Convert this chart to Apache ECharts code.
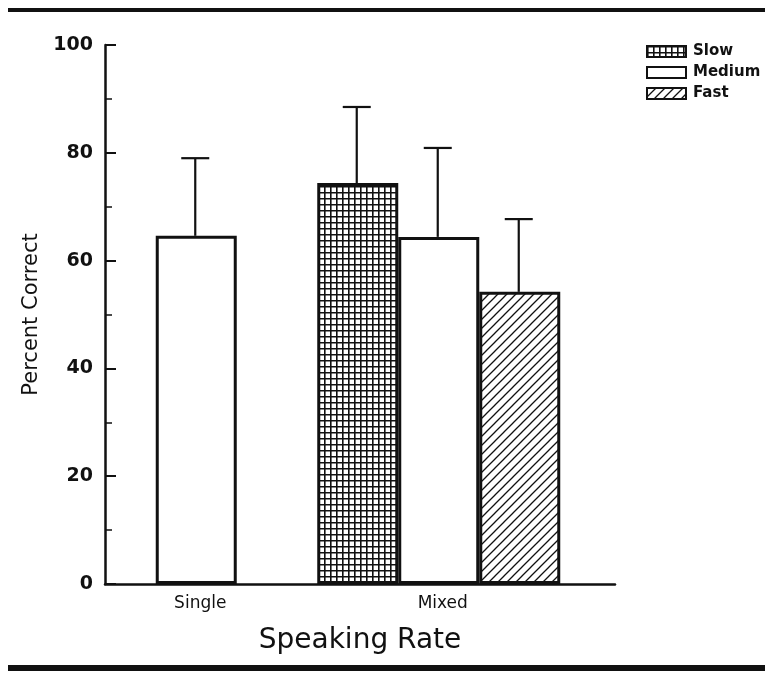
<!DOCTYPE html>
<html>
<head>
<meta charset="utf-8">
<script src="https://cdn.jsdelivr.net/npm/echarts@6/dist/echarts.min.js"></script>
<style>
  html, body { margin: 0; padding: 0; background: #fff; }
  #chart { width: 765px; height: 673px; }
</style>
</head>
<body>
<div id="chart"></div>
<script>
const categories = ["Single", "Mixed"];
const rates = ["Slow", "Medium", "Fast"];
// mean percent correct per rate, '-' where the condition does not exist
const slowMeans = ["-", 74.4];
const mediumMeans = [64.6, 64.4];
const fastMeans = ["-", 54.2];
// upper end of the error bars
const slowUpper = ["-", 88.5];
const mediumUpper = [79.0, 80.9];
const fastUpper = ["-", 67.7];
const yTicks = [0, 20, 40, 60, 80, 100];

const font = "DejaVu Sans";
const barW = 81;

// fill patterns
function makePattern(kind) {
  const c = document.createElement("canvas");
  const s = kind === "grid" ? 6 : 9;
  c.width = s;
  c.height = s;
  const g = c.getContext("2d");
  g.fillStyle = "#fff";
  g.fillRect(0, 0, s, s);
  g.strokeStyle = "#111";
  g.lineWidth = kind === "grid" ? 1.6 : 1.3;
  g.beginPath();
  if (kind === "grid") {
    g.moveTo(0.8, 0); g.lineTo(0.8, s);
    g.moveTo(0, 0.8); g.lineTo(s, 0.8);
  } else {
    g.moveTo(0, s); g.lineTo(s, 0);
    g.moveTo(-1, 1); g.lineTo(1, -1);
    g.moveTo(s - 1, s + 1); g.lineTo(s + 1, s - 1);
  }
  g.stroke();
  return { image: c, repeat: "repeat" };
}

const fills = {
  Slow: makePattern("grid"),
  Medium: "#fff",
  Fast: makePattern("hatch"),
};

const meansByRate = { Slow: slowMeans, Medium: mediumMeans, Fast: fastMeans };
const upperByRate = { Slow: slowUpper, Medium: mediumUpper, Fast: fastUpper };

const errData = [];
rates.forEach((r, ri) => {
  categories.forEach((c, ci) => {
    if (meansByRate[r][ci] !== "-") {
      errData.push([ci, meansByRate[r][ci], upperByRate[r][ci], ri]);
    }
  });
});

const barSeries = rates.map((r) => ({
  name: r,
  type: "bar",
  xAxisIndex: 0,
  yAxisIndex: 0,
  data: meansByRate[r],
  barWidth: barW,
  barGap: "0%",
  itemStyle: { color: fills[r], borderColor: "#111", borderWidth: 3 },
  emphasis: { disabled: true },
  z: 3,
}));

const chart = echarts.init(document.getElementById("chart"));

chart.setOption({
  animation: false,
  grid: [
    { left: 75, right: 205, top: 45, bottom: 89 },
    { left: 105, right: 150, top: 45, bottom: 89 },
  ],
  legend: {
    data: rates,
    orient: "vertical",
    left: 641,
    top: 39,
    itemWidth: 39,
    itemHeight: 11,
    itemGap: 6,
    icon: "rect",
    itemStyle: { borderWidth: 2, borderColor: "#111" },
    textStyle: { fontFamily: font, fontSize: 15, fontWeight: "bold", color: "#111", padding: [0, 0, 0, 2] },
    selectedMode: false,
  },
  xAxis: [
    {
      gridIndex: 0,
      type: "category",
      data: categories,
      axisLine: { show: false },
      axisTick: { show: false },
      axisLabel: { fontFamily: font, fontSize: 17, color: "#111", margin: 11, padding: [0, 0, 0, 8] },
    },
    {
      gridIndex: 1,
      type: "value",
      min: 0,
      max: 1,
      axisLine: { lineStyle: { color: "#111", width: 2.5 } },
      axisTick: { show: false },
      axisLabel: { show: false },
      splitLine: { show: false },
      name: "Speaking Rate",
      nameLocation: "middle",
      nameGap: 43,
      nameTextStyle: { fontFamily: font, fontSize: 28, color: "#111" },
    },
  ],
  yAxis: [
    { gridIndex: 0, type: "value", min: 0, max: 100, show: false },
    {
      gridIndex: 1,
      type: "value",
      min: 0,
      max: 100,
      interval: 20,
      axisLine: { show: true, lineStyle: { color: "#111", width: 2.5 } },
      axisTick: { show: true, inside: true, length: 11, lineStyle: { color: "#111", width: 2 } },
      minorTick: { show: true, splitNumber: 2, length: 7, lineStyle: { color: "#111", width: 1.5 } },
      axisLabel: {
        fontFamily: font,
        fontSize: 19,
        fontWeight: "bold",
        color: "#111",
        margin: 12,
        formatter: (v) => (yTicks.includes(v) ? String(v) : ""),
      },
      splitLine: { show: false },
      name: "Percent Correct",
      nameLocation: "middle",
      nameGap: 60,
      nameTextStyle: { fontFamily: font, fontSize: 21, color: "#111" },
    },
  ],
  series: [
    ...barSeries,
    {
      name: "error",
      type: "custom",
      xAxisIndex: 0,
      yAxisIndex: 0,
      data: errData,
      z: 4,
      renderItem: (params, api) => {
        const base = api.coord([api.value(0), api.value(1)]);
        const top = api.coord([api.value(0), api.value(2)]);
        const x = base[0] + (api.value(3) - 1) * barW - 1;
        const style = { stroke: "#111", lineWidth: 2.2 };
        return {
          type: "group",
          children: [
            { type: "line", shape: { x1: x, y1: base[1], x2: x, y2: top[1] }, style },
            { type: "line", shape: { x1: x - 14, y1: top[1], x2: x + 14, y2: top[1] }, style },
          ],
        };
      },
    },
  ],
  graphic: [
    { type: "rect", shape: { x: 8, y: 8, width: 757, height: 4 }, style: { fill: "#111" } },
    { type: "rect", shape: { x: 8, y: 665, width: 757, height: 6 }, style: { fill: "#111" } },
  ],
});
</script>
</body>
</html>
